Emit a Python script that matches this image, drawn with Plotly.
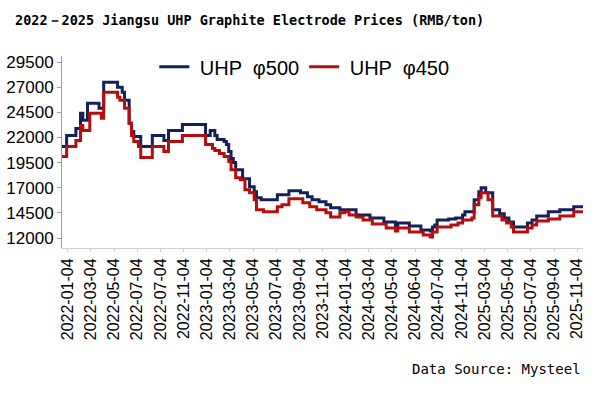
import plotly.graph_objects as go

# ---- data (step change points: point index -> price, RMB/ton) ----
tick_labels = ["2022-01-04", "2022-03-04", "2022-05-04", "2022-07-04", "2022-07-04",
               "2022-11-04", "2023-01-04", "2023-03-04", "2023-05-04", "2023-07-04",
               "2023-09-04", "2023-11-04", "2024-01-04", "2024-03-04", "2024-05-04",
               "2024-06-04", "2024-07-04", "2024-11-04", "2025-03-04", "2025-05-04",
               "2025-07-04", "2025-09-04", "2025-11-04"]
tick_index = [2.5 + 10 * i for i in range(len(tick_labels))]

uhp500_idx = [0, 2, 6, 8, 9, 11, 16, 18, 24, 26, 27, 29, 30, 31, 34, 39, 44, 46, 52,
              62, 64, 66, 67, 70, 71, 72, 73, 74, 75, 78, 81, 83, 84, 86, 93, 98, 103,
              106, 108, 111, 114, 116, 120, 127, 133, 139, 144, 145, 150, 155, 159, 160,
              161, 162, 167, 170, 173, 174, 178, 180, 181, 183, 186, 189, 191, 193, 195,
              201, 203, 205, 210, 215, 221, 225]
uhp500_val = [21100, 22200, 22900, 24400, 23700, 25400, 24900, 27500, 27000, 26500,
              25700, 23400, 22600, 22100, 21100, 22200, 21700, 22700, 23300, 22200,
              22700, 22200, 21800, 21600, 21300, 20600, 19900, 19500, 18800, 17900,
              17100, 16600, 16000, 15800, 16300, 16700, 16500, 16100, 15800, 15600,
              15300, 15000, 14800, 14300, 14000, 13600, 13100, 13500, 13200, 12800,
              12700, 13100, 13300, 13800, 13900, 14000, 14300, 14600, 15800, 16600,
              17000, 16500, 14800, 14400, 14000, 13600, 13100, 13500, 13800, 14200,
              14600, 14800, 15100, 15100]

uhp450_idx = [0, 2, 6, 8, 9, 12, 17, 18, 24, 25, 27, 29, 30, 31, 33, 34, 39, 44, 46,
              52, 62, 65, 66, 68, 70, 72, 73, 75, 77, 79, 81, 83, 84, 87, 93, 95, 98,
              104, 107, 110, 114, 116, 120, 122, 124, 127, 130, 134, 140, 144, 145, 150,
              156, 159, 160, 162, 168, 171, 173, 177, 178, 180, 181, 184, 186, 190, 192,
              194, 195, 201, 203, 205, 210, 215, 221, 225]
uhp450_val = [20100, 21100, 21700, 23200, 22700, 24400, 23900, 26500, 26000, 25700,
              24900, 23400, 22200, 21600, 21100, 20000, 21100, 20600, 21600, 22200,
              21300, 20900, 20700, 20400, 20100, 19600, 18800, 18000, 17800, 16800,
              16500, 15800, 14800, 14600, 15100, 15300, 15900, 15500, 15100, 14800,
              14500, 14100, 14500, 14600, 14300, 14100, 13800, 13400, 13000, 12700,
              13000, 12600, 12300, 12100, 12600, 13100, 13300, 13500, 13800, 14000,
              15300, 16000, 16500, 15800, 14200, 13800, 13500, 13100, 12600, 13000,
              13300, 13700, 13900, 14200, 14600, 14600]

y_ticks = [12000, 14500, 17000, 19500, 22000, 24500, 27000, 29500]
y_tick_text = [str(v) for v in y_ticks]

NAVY = "#14205A"
RED = "#B80D0D"

fig = go.Figure()
fig.add_trace(go.Scatter(x=uhp500_idx, y=uhp500_val, mode="lines", name=" UHP  φ500",
                         line=dict(color=NAVY, width=3, shape="hv")))
fig.add_trace(go.Scatter(x=uhp450_idx, y=uhp450_val, mode="lines", name=" UHP  φ450",
                         line=dict(color=RED, width=3, shape="hv")))

fig.update_layout(
    width=600, height=394,
    margin=dict(l=62, r=17, t=56, b=146, autoexpand=False),
    paper_bgcolor="white", plot_bgcolor="white",
    title=dict(text="2022－2025 Jiangsu UHP Graphite Electrode Prices (RMB/ton)",
               x=0.025, xanchor="left", y=0.949, yanchor="middle",
               font=dict(family="DejaVu Sans Mono", size=13.5, color="black", weight="bold")),
    legend=dict(orientation="h", x=0.465, xanchor="center", y=1.045, yanchor="top",
                font=dict(family="Liberation Sans", size=20, color="black"),
                bgcolor="rgba(0,0,0,0)", itemwidth=30, tracegroupgap=0),
    xaxis=dict(range=[0, 225], tickmode="array", tickvals=tick_index, ticktext=tick_labels,
               tickangle=-90, showgrid=False, zeroline=False, showline=True,
               linecolor="#D0D0D0", linewidth=1, ticks="outside", ticklen=3,
               tickcolor="#D0D0D0",
               tickfont=dict(family="Liberation Sans", size=16, color="black")),
    yaxis=dict(range=[11006, 30100], tickmode="array", tickvals=y_ticks, ticktext=y_tick_text,
               showgrid=False, zeroline=False, showline=True,
               linecolor="#A0A0A0", linewidth=1, ticks="outside", ticklen=4,
               tickcolor="#A0A0A0",
               tickfont=dict(family="Liberation Sans", size=17, color="black")),
    annotations=[dict(text="Data Source: Mysteel", xref="paper", yref="paper",
                      x=1.0, y=-0.63, xanchor="right", yanchor="middle", showarrow=False,
                      font=dict(family="DejaVu Sans Mono", size=14, color="black"))],
)

fig.write_html("out.html", config={"displayModeBar": False},
               post_script="document.body.style.margin='0';document.body.style.padding='0';")
